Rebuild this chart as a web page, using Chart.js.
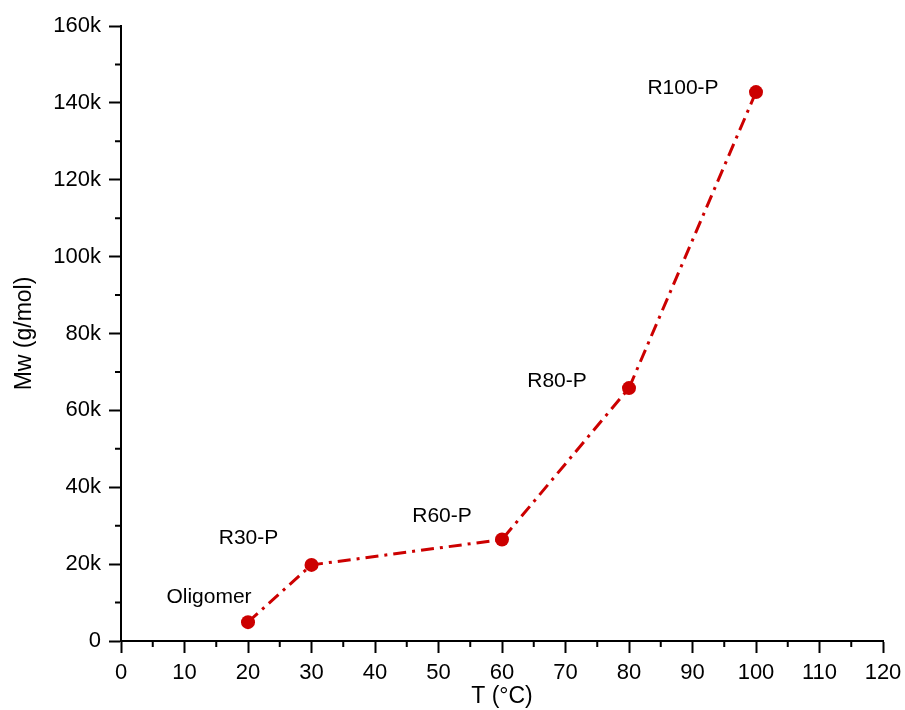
<!DOCTYPE html>
<html>
<head>
<meta charset="utf-8">
<script src="https://cdn.jsdelivr.net/npm/chart.js@4.4.1/dist/chart.umd.min.js"></script>
<style>
  html, body { margin: 0; padding: 0; background: #fff; }
  canvas { display: block; }
</style>
</head>
<body>
<canvas id="myChart" width="905" height="710"></canvas>
<script>
// data
const temps = [20, 30, 60, 80, 100];
const mw = [4900, 19800, 26400, 65800, 142800];
const names = ['Oligomer', 'R30-P', 'R60-P', 'R80-P', 'R100-P'];

// label offsets from each point (px)
const labelOffsets = [[-39, -25], [-63, -27], [-60, -23], [-72, -7], [-73, -4]];

const red = '#cc0000';
const fam = '"Liberation Sans", Arial, sans-serif';

// minor ticks + point labels
const extras = {
  id: 'extras',
  afterDraw(chart) {
    const c = chart.ctx;
    const xs = chart.scales.x, ys = chart.scales.y;
    c.save();
    c.strokeStyle = '#000';
    c.lineWidth = 2;
    c.beginPath();
    for (let v = 5; v < 120; v += 10) {
      const px = xs.getPixelForValue(v);
      c.moveTo(px, xs.top);
      c.lineTo(px, xs.top + 6);
    }
    for (let v = 10000; v < 160000; v += 20000) {
      const py = ys.getPixelForValue(v);
      c.moveTo(ys.right, py);
      c.lineTo(ys.right - 6, py);
    }
    c.stroke();

    const meta = chart.getDatasetMeta(0);
    c.fillStyle = '#000';
    c.font = '21px ' + fam;
    c.textAlign = 'center';
    c.textBaseline = 'middle';
    meta.data.forEach((pt, i) => {
      c.fillText(names[i], pt.x + labelOffsets[i][0], pt.y + labelOffsets[i][1]);
    });
    c.restore();
  }
};

const tickFont = { family: fam, size: 22 };
const titleFont = { family: fam, size: 23 };

new Chart(document.getElementById('myChart'), {
  type: 'line',
  data: {
    labels: temps,
    datasets: [{
      data: temps.map((t, i) => ({ x: t, y: mw[i] })),
      borderColor: red,
      backgroundColor: red,
      borderWidth: 3,
      borderDash: [13, 6, 3, 6],
      pointRadius: 7,
      pointHoverRadius: 7,
      pointBorderWidth: 0,
      pointBackgroundColor: red,
      fill: false,
      tension: 0
    }]
  },
  options: {
    responsive: false,
    devicePixelRatio: 1,
    animation: false,
    layout: { padding: { left: 0, top: 26, right: 22, bottom: 0 } },
    plugins: { legend: { display: false }, tooltip: { enabled: false } },
    scales: {
      x: {
        type: 'linear',
        min: 0,
        max: 120,
        ticks: { stepSize: 10, color: '#000', font: tickFont, padding: 7, maxRotation: 0 },
        grid: { drawOnChartArea: false, tickLength: 12, tickWidth: 2, tickColor: '#000' },
        border: { display: true, color: '#000', width: 2 },
        title: { display: true, text: 'T (°C)', color: '#000', font: titleFont, padding: { top: 0, bottom: 0 } },
        afterFit(scale) { scale.height = 69; scale.paddingRight = 0; scale.paddingLeft = 0; }
      },
      y: {
        min: 0,
        max: 160000,
        ticks: {
          stepSize: 20000, color: '#000', font: tickFont, padding: 8,
          callback: v => v === 0 ? '0' : (v / 1000) + 'k'
        },
        grid: { drawOnChartArea: false, tickLength: 12, tickWidth: 2, tickColor: '#000' },
        border: { display: true, color: '#000', width: 2 },
        title: { display: true, text: 'Mw (g/mol)', color: '#000', font: titleFont, padding: { top: 11, bottom: 0 } },
        afterFit(scale) { scale.width = 121; scale.paddingTop = 0; scale.paddingBottom = 0; }
      }
    }
  },
  plugins: [extras]
});
</script>
</body>
</html>
